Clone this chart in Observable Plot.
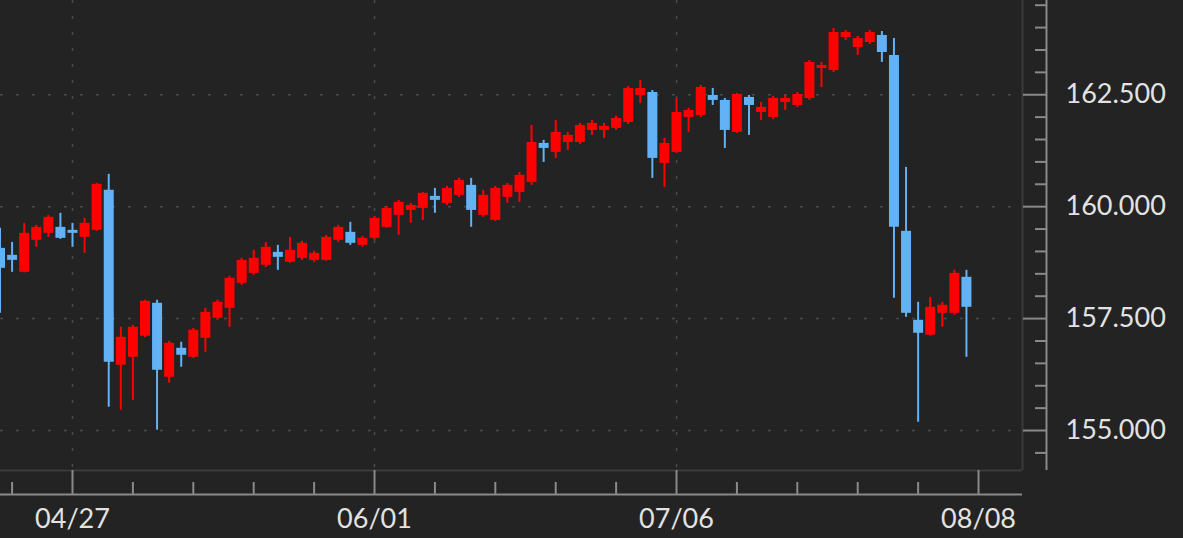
<!DOCTYPE html>
<html>
<head>
<meta charset="utf-8">
<script src="https://cdn.jsdelivr.net/npm/d3@7"></script>
<script src="https://cdn.jsdelivr.net/npm/@observablehq/plot@0.6"></script>
<style>
  html, body { margin: 0; padding: 0; background: #232323; overflow: hidden; }
  #chart svg { display: block; }
</style>
</head>
<body>
<div id="chart"></div>
<script>
// Trading-day index (0 = 04/27), first visible candle is index -6
const dayIndex = d3.range(-6, 75);

const opens = [159.069,158.913,158.534,159.248,159.404,159.538,159.471,159.315,159.471,160.364,
  156.458,156.636,157.105,157.842,156.19,156.837,156.636,157.06,157.507,157.73,
  158.288,158.511,158.69,158.98,158.757,158.846,158.801,158.801,159.248,159.427,
  159.136,159.293,159.538,159.806,159.917,159.962,160.23,160.074,160.252,160.476,
  159.806,159.694,160.208,160.319,160.542,161.413,161.212,161.435,161.435,161.703,
  161.703,161.748,161.882,162.484,162.551,160.967,161.212,161.993,162.038,162.484,
  162.373,161.659,162.44,162.105,161.993,162.328,162.261,162.417,163.087,163.042,
  163.779,163.556,163.667,163.824,163.377,159.449,157.462,157.128,157.618,157.618,158.422];

const highs = [159.516,159.203,159.627,159.583,159.806,159.851,159.627,159.739,160.52,160.721,
  157.306,157.35,157.91,157.909,156.99,156.971,157.283,157.73,157.909,158.445,
  158.846,159.025,159.203,159.136,159.315,159.226,159.003,159.36,159.583,159.65,
  159.337,159.784,160.007,160.141,160.074,160.319,160.409,160.453,160.632,160.632,
  160.364,160.453,160.52,160.766,161.815,161.48,161.926,161.659,161.86,161.926,
  161.86,162.016,162.685,162.819,162.596,161.525,162.417,162.194,162.708,162.641,
  162.417,162.529,162.484,162.328,162.462,162.484,162.551,163.266,163.221,163.98,
  163.935,163.801,163.935,163.913,163.757,160.877,157.864,157.976,157.864,158.578,158.578];

const lows = [157.618,158.534,158.52,159.092,159.315,159.27,159.092,158.958,159.45,155.52,
  155.453,155.676,157.08,155.007,156.056,156.413,156.61,156.748,157.462,157.306,
  158.243,158.467,158.645,158.578,158.735,158.801,158.757,158.78,159.203,159.136,
  159.092,159.248,159.516,159.36,159.627,159.694,159.851,160.029,160.208,159.538,
  159.761,159.672,160.074,160.096,160.476,160.989,161.078,161.257,161.391,161.592,
  161.525,161.703,161.837,162.306,160.632,160.431,161.19,161.659,161.993,162.261,
  161.301,161.637,161.592,161.926,161.949,162.15,162.217,162.373,162.663,162.998,
  163.712,163.377,163.623,163.221,157.953,157.529,155.185,157.105,157.306,157.574,156.636];

const closes = [158.623,158.801,159.404,159.538,159.761,159.293,159.404,159.627,160.498,156.525,
  157.083,157.306,157.886,156.346,156.949,156.681,157.239,157.641,157.864,158.4,
  158.801,158.846,159.092,158.868,159.025,159.181,158.958,159.315,159.538,159.181,
  159.293,159.739,159.962,160.096,160.029,160.297,160.141,160.409,160.587,159.917,
  160.252,160.409,160.476,160.699,161.435,161.301,161.659,161.592,161.815,161.86,
  161.793,161.971,162.641,162.641,161.078,161.413,162.105,162.15,162.663,162.373,
  161.703,162.507,162.261,162.217,162.417,162.417,162.507,163.221,163.154,163.891,
  163.891,163.757,163.891,163.444,159.538,157.618,157.172,157.752,157.797,158.511,157.752];

// Axis ticks
const xMajorTicks = [0, 25, 50, 75];
const xMajorLabels = ["04/27", "06/01", "07/06", "08/08"];
const xMinorTicks = [-5, 5, 10, 15, 20, 30, 35, 40, 45, 55, 60, 65, 70];
const yMajorTicks = [155, 157.5, 160, 162.5];
const yMinorTicks = [154.5, 155.5, 156, 156.5, 157, 158, 158.5, 159, 159.5, 160.5, 161, 161.5, 162, 163, 163.5, 164, 164.5];

const candles = dayIndex.map((i, j) => ({
  i, open: opens[j], high: highs[j], low: lows[j], close: closes[j],
  up: closes[j] >= opens[j]
}));

const UP = "#ff0000";
const DOWN = "#62b2f5";
const AXIS = "#8a8a8a";
const GRID = "#4a4a4a";
const xDomain = [-5.96, 78.64];
const yDomain = [154.107, 164.605];

const chart = Plot.plot({
  width: 1183,
  height: 538,
  marginLeft: 0,
  marginRight: 161,
  marginTop: 0,
  marginBottom: 68,
  style: {background: "#232323", color: "#e2e2e2", fontFamily: "Lato, sans-serif"},
  x: {type: "linear", domain: xDomain},
  y: {domain: yDomain},
  marks: [
    // dotted grid
    Plot.gridY(yMajorTicks, {stroke: GRID, strokeOpacity: 1, strokeDasharray: "3,13", strokeWidth: 1.5}),
    Plot.gridX(xMajorTicks.slice(0, 3), {stroke: GRID, strokeOpacity: 1, strokeDasharray: "3,13", strokeWidth: 1.5}),
    // faint frame border (right & bottom)
    Plot.ruleX([xDomain[1]], {stroke: "#3a3a3a", strokeWidth: 2}),
    Plot.ruleY([yDomain[0]], {stroke: "#3a3a3a", strokeWidth: 2}),
    // wicks
    Plot.ruleX(candles, {x: "i", y1: "low", y2: "high", stroke: d => d.up ? UP : DOWN, strokeWidth: 2}),
    // bodies
    Plot.ruleX(candles, {x: "i", y1: "open", y2: "close", stroke: d => d.up ? UP : DOWN, strokeWidth: 10}),
    // axis lines
    Plot.ruleY([yDomain[0]], {dy: 24, stroke: AXIS, strokeWidth: 2}),
    Plot.ruleX([xDomain[1]], {dx: 24, stroke: AXIS, strokeWidth: 2}),
    // x axis
    Plot.axisX({anchor: "bottom", ticks: xMajorTicks, tickSize: 24, tickPadding: 14,
      tickFormat: d => xMajorLabels[xMajorTicks.indexOf(d)], fontSize: 27,
      stroke: AXIS, fill: "#e2e2e2", strokeWidth: 2, label: null}),
    Plot.axisX({anchor: "bottom", ticks: xMinorTicks, tickSize: 12, dy: 12,
      tickFormat: () => "", stroke: AXIS, strokeWidth: 2, label: null}),
    // y axis (right)
    Plot.axisY({anchor: "right", ticks: yMajorTicks, tickSize: 24, tickPadding: 19,
      tickFormat: d => d.toFixed(3), fontSize: 27,
      stroke: AXIS, fill: "#e2e2e2", strokeWidth: 2, label: null}),
    Plot.axisY({anchor: "right", ticks: yMinorTicks, tickSize: 12, dx: 12,
      tickFormat: () => "", stroke: AXIS, strokeWidth: 2, label: null})
  ]
});
document.getElementById("chart").appendChild(chart);
</script>
</body>
</html>
